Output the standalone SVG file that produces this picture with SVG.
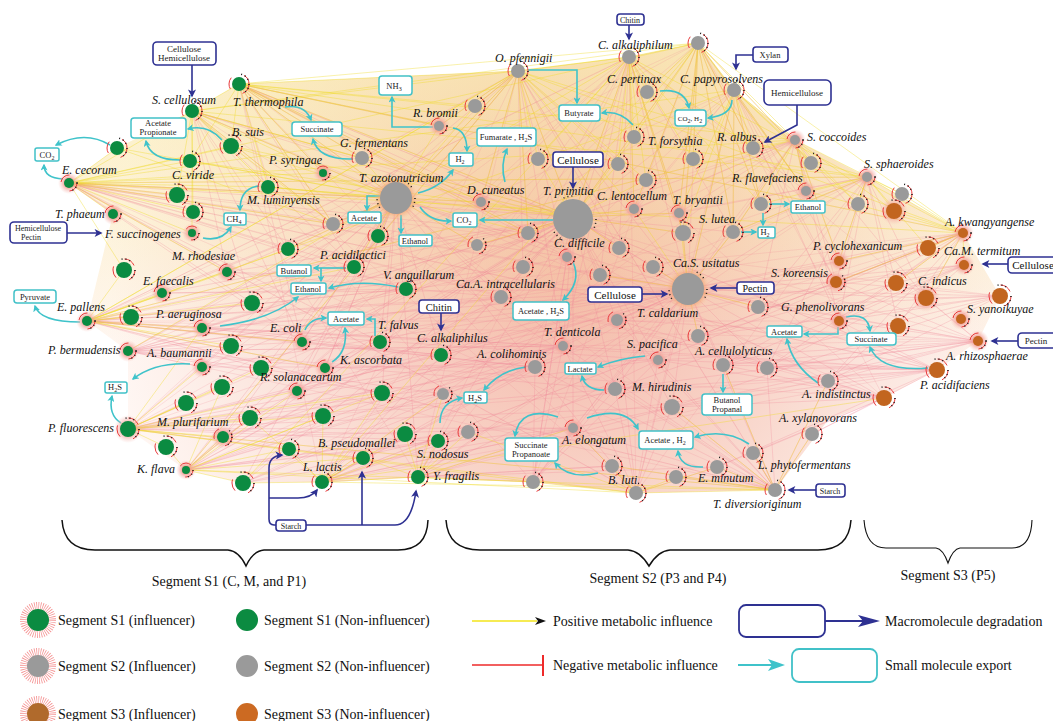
<svg xmlns="http://www.w3.org/2000/svg" width="1053" height="721" viewBox="0 0 1053 721">
<style>
.lb{font-family:"Liberation Serif","Times New Roman",serif;font-style:italic;font-size:12px;fill:#111}
.bt{font-family:"Liberation Serif",serif;font-size:8.5px;fill:#222;text-anchor:middle}
.mt{font-family:"Liberation Serif",serif;font-size:11px;fill:#111;text-anchor:middle}
.lg{font-family:"Liberation Serif",serif;font-size:14px;fill:#111}
.sg{font-family:"Liberation Serif",serif;font-size:14px;fill:#111;text-anchor:middle}
.cb{fill:#fff;stroke:#41c1c8;stroke-width:1.5}
.nb{fill:#fff;stroke:#2e3192;stroke-width:1.6}
.ca{fill:none;stroke:#3fc3ca;stroke-width:1.6;marker-end:url(#mc)}
.na{fill:none;stroke:#2e3192;stroke-width:1.6;marker-end:url(#mn)}
.nl{fill:none;stroke:#2e3192;stroke-width:1.6}
.cg{fill:#0b8b41}
.cs{fill:#9a9a9a}
.co{fill:#c2651f}
.rg{fill:none;stroke:#e8393a;stroke-width:1;stroke-dasharray:12 14}
.tk{fill:none;stroke:#1a1a1a;stroke-width:1.5;stroke-dasharray:1 3 1 3 1 40}
.hl{fill:url(#hp)}
.ho{fill:url(#hoo)}
.wp{fill:none;stroke:#ef8798;stroke-opacity:.5;stroke-width:.55}
.wl{fill:none;stroke:#ef8798;stroke-opacity:.4;stroke-width:.5}
.wy{fill:none;stroke:#efdb22;stroke-opacity:.7;stroke-width:.55}
.br{fill:none;stroke:#111;stroke-width:1.5}
.sb{font-size:6px}
</style>
<defs>
<radialGradient id="hp"><stop offset="0.35" stop-color="#f2948c" stop-opacity="0.95"/><stop offset="1" stop-color="#f7c4bc" stop-opacity="0"/></radialGradient>
<radialGradient id="hoo"><stop offset="0.6" stop-color="#f29a66" stop-opacity="0.95"/><stop offset="1" stop-color="#f7c09a" stop-opacity="0"/></radialGradient>
<radialGradient id="web" cx="570" cy="290" r="460" gradientUnits="userSpaceOnUse"><stop offset="0" stop-color="#f2ad9c"/><stop offset="0.35" stop-color="#f6c5b6"/><stop offset="0.7" stop-color="#fbe2d9"/><stop offset="1" stop-color="#fff5f1"/></radialGradient>
<linearGradient id="yel" x1="0" y1="60" x2="0" y2="360" gradientUnits="userSpaceOnUse"><stop offset="0" stop-color="#f7ec8e" stop-opacity=".45"/><stop offset=".5" stop-color="#f7e584" stop-opacity=".25"/><stop offset="1" stop-color="#f7e584" stop-opacity="0"/></linearGradient>
<marker id="mc" viewBox="0 0 10 10" refX="8" refY="5" markerWidth="7" markerHeight="7" markerUnits="userSpaceOnUse" orient="auto"><path d="M0 0L10 5L0 10L2.5 5Z" fill="#3fc3ca"/></marker>
<marker id="mn" viewBox="0 0 10 10" refX="8" refY="5" markerWidth="9" markerHeight="8" markerUnits="userSpaceOnUse" orient="auto"><path d="M0 0L10 5L0 10L2.5 5Z" fill="#2e3192"/></marker>
<g id="G7"><circle r="10" class="rg"/><circle r="10" class="tk"/><circle r="7" class="cg"/></g>
<g id="G8"><circle r="11" class="rg"/><circle r="11" class="tk"/><circle r="8" class="cg"/></g>
<g id="GI4"><circle r="10" class="hl"/><circle r="7" class="rg"/><circle r="7" class="tk"/><circle r="4" class="cg"/></g>
<g id="GI5"><circle r="11" class="hl"/><circle r="8" class="rg"/><circle r="8" class="tk"/><circle r="5" class="cg"/></g>
<g id="GI6"><circle r="12" class="hl"/><circle r="9" class="rg"/><circle r="9" class="tk"/><circle r="6" class="cg"/></g>
<g id="GI8"><circle r="14" class="hl"/><circle r="11" class="rg"/><circle r="11" class="tk"/><circle r="8" class="cg"/></g>
<g id="S6"><circle r="9" class="rg"/><circle r="9" class="tk"/><circle r="6" class="cs"/></g>
<g id="S7"><circle r="10" class="rg"/><circle r="10" class="tk"/><circle r="7" class="cs"/></g>
<g id="S8"><circle r="11" class="rg"/><circle r="11" class="tk"/><circle r="8" class="cs"/></g>
<g id="SI5"><circle r="11" class="hl"/><circle r="8" class="rg"/><circle r="8" class="tk"/><circle r="5" class="cs"/></g>
<g id="SI6"><circle r="12" class="hl"/><circle r="9" class="rg"/><circle r="9" class="tk"/><circle r="6" class="cs"/></g>
<g id="TAZ"><circle r="22" class="ho"/><circle r="19" class="tk"/><circle r="16" class="cs"/></g>
<g id="TPR"><circle r="23" class="tk"/><circle r="20" class="cs"/></g>
<g id="O8"><circle r="11" class="rg"/><circle r="11" class="tk"/><circle r="8" class="co"/></g>
<g id="OI5"><circle r="11" class="hl"/><circle r="8" class="rg"/><circle r="8" class="tk"/><circle r="5" class="co"/></g>
<g id="OI6"><circle r="12" class="hl"/><circle r="9" class="rg"/><circle r="9" class="tk"/><circle r="6" class="co"/></g>
<g id="OI8"><circle r="14" class="hl"/><circle r="11" class="rg"/><circle r="11" class="tk"/><circle r="8" class="co"/></g>
</defs>
<rect width="1053" height="721" fill="#fff"/>
<g id="connectors">
<g id="web">
<polygon points="69,183 117,148 192,111 239,84 518,71 629,57 698,43 734,90 795,140 867,177 963,233 1000,296 978,341 937,370 884,398 828,420 775,490 636,493 533,482 418,477 322,482 243,483 186,470 128,429 128,351 87,321 113,214" fill="url(#web)" opacity=".85"/>
<polygon points="69,183 117,148 192,111 239,84 518,71 629,57 698,43 734,90 795,140 867,177 963,233 1000,296 978,341 937,370 884,398 828,420 775,490 636,493 533,482 418,477 322,482 243,483 186,470 128,429 128,351 87,321 113,214" fill="url(#yel)"/>
<path class="wl" d="M69 183L937 370M69 183L978 341M69 183L775 490M69 183L884 398M69 183L636 493M69 183L1000 296M69 183L828 381M87 321L963 233M87 321L867 177M87 321L937 370M87 321L775 490M87 321L698 43M87 321L629 57M87 321L839 321M128 351L963 233M128 351L978 341M128 351L795 140M128 351L734 90M128 351L884 398M128 429L867 177M128 429L937 370M128 429L775 490M128 429L795 140M128 429L839 261M128 429L629 57M186 470L963 233M186 470L867 177M186 470L698 43M186 470L828 381M186 470L518 71M322 482L795 140M322 482L963 233M322 482L629 57M322 482L239 84M418 477L867 177M418 477L734 90M418 477L518 71M418 477L192 111M239 84L775 490M239 84L937 370M239 84L636 493M239 84L828 381M192 111L884 398M192 111L775 490M192 111L533 482M518 71L775 490M518 71L322 482M518 71L128 429M518 71L884 398M629 57L186 470M629 57L418 477M629 57L87 321M629 57L978 341M698 43L243 483M698 43L128 351M698 43L884 398M698 43L533 482M734 90L128 429M734 90L322 482M734 90L636 493M795 140L186 470M795 140L87 321M795 140L533 482M867 177L69 183M867 177L243 483M867 177L636 493M963 233L128 429M963 233L322 482M963 233L239 84M978 341L192 111M978 341L418 477M978 341L87 321M937 370L239 84M937 370L69 183M937 370L322 482M775 490L87 321M775 490L128 351M775 490L518 71M636 493L69 183M636 493L192 111M636 493L629 57"/>
<path class="wp" d="M69 183L396 198M69 183L573 217M69 183L688 289M69 183L288 249M69 183L354 267M69 183L528 233M69 183L227 272M69 183L302 342M69 183L380 342M69 183L333 224M69 183L406 289M69 183L252 303M69 183L567 257M69 183L481 202M87 321L396 198M87 321L573 217M87 321L688 289M87 321L406 289M87 321L302 342M87 321L325 368M87 321L563 346M87 321L535 367M87 321L523 267M87 321L261 368M87 321L441 355M87 321L501 297M87 321L658 360M128 351L396 198M128 351L573 217M128 351L567 257M128 351L563 346M128 351L688 289M128 351L302 342M128 351L406 289M128 351L382 393M128 351L443 394M128 351L615 389M128 351L501 297M128 351L202 367M128 429L573 217M128 429L688 289M128 429L396 198M128 429L573 428M128 429L535 367M128 429L563 346M128 429L443 394M128 429L438 441M128 429L363 458M128 429L405 434M128 429L658 360M128 429L615 389M128 429L672 407M186 470L573 217M186 470L688 289M186 470L573 428M186 470L535 367M186 470L396 198M186 470L468 432M186 470L438 441M186 470L406 289M186 470L501 297M186 470L563 346M186 470L223 437M243 483L573 217M243 483L573 428M243 483L468 432M243 483L535 367M243 483L396 198M243 483L688 289M322 482L573 217M322 482L688 289M322 482L573 428M322 482L612 466M322 482L468 432M322 482L535 367M322 482L563 346M322 482L615 389M322 482L672 407M418 477L573 217M418 477L573 428M418 477L688 289M418 477L612 466M418 477L533 482M418 477L717 467M418 477L658 360M418 477L396 198M418 477L672 407M239 84L396 198M239 84L573 217M239 84L481 202M239 84L528 233M239 84L333 224M239 84L288 249M239 84L323 173M239 84L362 158M239 84L439 126M239 84L567 257M239 84L354 267M239 84L302 342M239 84L688 289M192 111L396 198M192 111L573 217M192 111L333 224M192 111L354 267M192 111L288 249M192 111L302 342M192 111L252 303M192 111L481 202M192 111L227 272M518 71L396 198M518 71L573 217M518 71L567 257M518 71L481 202M518 71L528 233M518 71L523 267M518 71L688 289M518 71L619 248M518 71L439 126M518 71L475 106M518 71L362 158M518 71L333 224M518 71L563 346M518 71L354 267M629 57L573 217M629 57L688 289M629 57L567 257M629 57L619 248M629 57L634 209M629 57L679 213M629 57L683 233M629 57L733 232M629 57L806 191M629 57L600 275M629 57L481 202M629 57L528 233M629 57L563 346M698 43L573 217M698 43L688 289M698 43L634 209M698 43L679 213M698 43L733 232M698 43L761 204M698 43L753 148M698 43L811 163M698 43L683 233M698 43L806 191M698 43L836 282M734 90L573 217M734 90L688 289M734 90L634 209M734 90L733 232M734 90L806 191M734 90L761 204M734 90L839 261M734 90L836 282M734 90L839 321M795 140L573 217M795 140L688 289M795 140L733 232M795 140L806 191M795 140L839 261M795 140L836 282M795 140L926 298M795 140L839 321M795 140L758 307M795 140L634 209M795 140L679 213M867 177L688 289M867 177L839 261M867 177L836 282M867 177L926 298M867 177L839 321M867 177L896 283M867 177L898 326M867 177L679 213M867 177L733 232M867 177L758 307M867 177L767 368M963 233L688 289M963 233L839 261M963 233L836 282M963 233L926 298M963 233L839 321M963 233L896 283M963 233L898 326M963 233L758 307M963 233L828 381M963 233L767 368M963 233L723 365M963 233L698 336M963 233L658 360M964 265L688 289M964 265L836 282M964 265L839 321M964 265L828 381M964 265L767 368M964 265L723 365M964 265L698 336M964 265L615 389M964 265L617 320M1000 296L688 289M1000 296L926 298M1000 296L839 321M1000 296L836 282M1000 296L758 307M1000 296L828 381M1000 296L723 365M1000 296L672 407M1000 296L698 336M978 341L688 289M978 341L839 321M978 341L926 298M978 341L836 282M978 341L828 381M978 341L723 365M978 341L767 368M978 341L672 407M978 341L658 360M978 341L615 389M978 341L617 320M937 370L688 289M937 370L839 321M937 370L828 381M937 370L723 365M937 370L767 368M937 370L812 434M937 370L672 407M937 370L717 467M937 370L615 389M937 370L658 360M937 370L563 346M884 398L828 381M884 398L812 434M884 398L753 453M884 398L717 467M884 398L723 365M884 398L672 407M884 398L688 289M884 398L617 320M884 398L658 360M775 490L688 289M775 490L573 428M775 490L615 389M775 490L658 360M775 490L672 407M775 490L723 365M775 490L767 368M775 490L828 381M775 490L812 434M775 490L753 453M775 490L717 467M775 490L612 466M775 490L676 477M775 490L617 320M775 490L563 346M775 490L535 367M636 493L688 289M636 493L573 428M636 493L615 389M636 493L658 360M636 493L617 320M636 493L563 346M636 493L535 367M636 493L672 407M636 493L717 467M533 482L573 217M533 482L688 289M533 482L573 428M533 482L563 346M533 482L535 367M533 482L658 360M533 482L615 389M533 482L567 257M396 198L354 267M396 198L406 289M396 198L378 236M396 198L333 224M396 198L288 249M396 198L302 342M396 198L380 342M396 198L441 355M396 198L325 368M396 198L477 245M396 198L501 297M396 198L573 217M396 198L567 257M396 198L535 367M396 198L563 346M396 198L688 289M396 198L382 393M573 217L528 233M573 217L477 245M573 217L523 267M573 217L600 275M573 217L619 248M573 217L567 257M573 217L653 267M573 217L688 289M573 217L501 297M573 217L563 346M573 217L535 367M573 217L615 389M573 217L658 360M573 217L617 320M573 217L683 233M573 217L733 232M573 217L634 209M573 217L679 213M573 217L573 428M573 217L672 407M573 217L406 289M573 217L441 355M688 289L653 267M688 289L600 275M688 289L617 320M688 289L698 336M688 289L758 307M688 289L723 365M688 289L767 368M688 289L658 360M688 289L615 389M688 289L672 407M688 289L573 428M688 289L563 346M688 289L839 321M688 289L836 282M688 289L839 261M688 289L733 232M688 289L683 233M688 289L926 298M202 328L396 198M202 328L573 217M202 328L688 289M202 328L563 346M202 328L441 355M202 367L573 217M202 367L396 198M202 367L688 289M202 367L535 367M223 437L573 217M223 437L688 289M223 437L396 198M223 437L573 428M223 437L563 346M162 293L396 198M162 293L573 217M162 293L688 289M162 293L406 289M227 272L573 217M227 272L396 198M227 272L688 289M227 272L501 297M302 342L573 217M302 342L688 289M302 342L396 198M302 342L535 367M297 391L573 217M297 391L688 289M297 391L563 346M297 391L396 198M325 368L573 217M325 368L688 289M325 368L396 198M325 368L658 360"/>
<path class="wy" d="M239 84L475 106M239 84L439 126M239 84L362 158M239 84L396 198M239 84L323 173M239 84L268 187M239 84L231 146M239 84L333 224M239 84L481 202M239 84L573 217M239 84L528 233M239 84L190 161M239 84L518 71M192 111L231 146M192 111L268 187M192 111L323 173M192 111L362 158M192 111L396 198M192 111L177 195M192 111L193 212M192 111L192 233M192 111L573 217M192 111L333 224M192 111L239 84M518 71L475 106M518 71L439 126M518 71L538 159M518 71L618 164M518 71L634 137M518 71L573 217M518 71L396 198M518 71L481 202M518 71L528 233M518 71L634 209M518 71L646 180M518 71L629 57M629 57L647 92M629 57L634 137M629 57L618 164M629 57L646 180M629 57L693 159M629 57L573 217M629 57L634 209M629 57L679 213M629 57L683 233M629 57L538 159M629 57L753 148M629 57L761 204M629 57L698 43M698 43L647 92M698 43L734 90M698 43L634 137M698 43L693 159M698 43L753 148M698 43L761 204M698 43L795 140M698 43L811 163M698 43L806 191M698 43L733 232M698 43L679 213M698 43L683 233M698 43L634 209M698 43L573 217M734 90L753 148M734 90L811 163M734 90L761 204M734 90L806 191M734 90L733 232M734 90L795 140M734 90L858 204M734 90L679 213M734 90L683 233M734 90L688 289M795 140L811 163M795 140L806 191M795 140L858 204M795 140L902 194M795 140L894 211M795 140L839 261M795 140L733 232M795 140L761 204M795 140L753 148M867 177L858 204M867 177L902 194M867 177L894 211M867 177L928 248M867 177L839 261M867 177L963 233M867 177L806 191M867 177L733 232M867 177L761 204M963 233L894 211M963 233L928 248M963 233L902 194M963 233L964 265M963 233L896 283M963 233L926 298M963 233L839 261M963 233L806 191M963 233L836 282M69 183L117 148M69 183L190 161M69 183L177 195M69 183L193 212M69 183L113 214M69 183L192 233M69 183L231 146M69 183L268 187M69 183L323 173M69 183L333 224M69 183L396 198M69 183L124 270M69 183L227 272M69 183L192 111M87 321L124 270M87 321L162 293M87 321L131 317M87 321L202 328M87 321L231 346M87 321L227 272M87 321L252 303M87 321L288 249M87 321L354 267M87 321L302 342M87 321L325 368M128 429L186 403M128 429L222 387M128 429L223 437M128 429L166 447M128 429L250 418M128 429L297 391M128 429L323 416M128 429L261 368M128 429L202 367M128 429L202 328M128 429L382 393M186 470L166 447M186 470L223 437M186 470L250 418M186 470L289 449M186 470L323 416M186 470L363 458M186 470L222 387M186 470L297 391M186 470L382 393M186 470L243 483M322 482L289 449M322 482L363 458M322 482L250 418M322 482L323 416M322 482L405 434M322 482L438 441M322 482L443 394M322 482L382 393M322 482L243 483M418 477L438 441M418 477L405 434M418 477L468 432M418 477L443 394M418 477L363 458M418 477L533 482M418 477L573 428M418 477L322 482M775 490L753 453M775 490L717 467M775 490L812 434M775 490L676 477M775 490L612 466M775 490L672 407M775 490L723 365M775 490L828 381M775 490L636 493M636 493L612 466M636 493L676 477M636 493L717 467M636 493L573 428M636 493L468 432M636 493L533 482M396 198L333 224M396 198L378 236M396 198L354 267M396 198L288 249M396 198L323 173M396 198L362 158M396 198L439 126M396 198L475 106M396 198L481 202M396 198L477 245M396 198L268 187M396 198L528 233M573 217L538 159M573 217L618 164M573 217L646 180M573 217L634 137M573 217L634 209M573 217L679 213M573 217L683 233M573 217L528 233M573 217L477 245M573 217L481 202M573 217L619 248M688 289L653 267M688 289L733 232M688 289L683 233M688 289L600 275M688 289L698 336M688 289L758 307M688 289L679 213M688 289L634 209M231 146L396 198M231 146L573 217M231 146L333 224M190 161L396 198M190 161L573 217M268 187L573 217M268 187L396 198M117 148L396 198M117 148L333 224M69 183L867 177M69 183L795 140M69 183L734 90M69 183L963 233M87 321L734 90M87 321L795 140M87 321L518 71M239 84L867 177M239 84L963 233M239 84L795 140M239 84L698 43M192 111L698 43M192 111L629 57M192 111L867 177M518 71L963 233M518 71L867 177M518 71L186 470M518 71L87 321M629 57L128 351M629 57L243 483M629 57L963 233M698 43L69 183M698 43L322 482M698 43L963 233M128 429L636 493M128 429L775 490M128 429L533 482M186 470L636 493M186 470L775 490M322 482L775 490M322 482L884 398"/>
</g>
<g id="export-arrows">
<path class="ca" d="M110 145Q85 130 56 145"/>
<path class="ca" d="M63 179Q44 178 44 165"/>
<path class="ca" d="M222 140Q208 124 188 129"/>
<path class="ca" d="M180 160Q150 160 146 141"/>
<path class="ca" d="M285 107Q305 104 311 120"/>
<path class="ca" d="M353 159Q318 160 313 139"/>
<path class="ca" d="M259 186Q240 188 240 210"/>
<path class="ca" d="M203 238Q222 242 231 227"/>
<path class="ca" d="M80 322Q40 322 35 306"/>
<path class="ca" d="M190 364Q155 362 133 379"/>
<path class="ca" d="M121 423Q108 415 112 396"/>
<path class="ca" d="M220 326Q270 320 298 297"/>
<path class="ca" d="M346 268L314 268"/>
<path class="ca" d="M321 268L321 281"/>
<path class="ca" d="M398 287Q360 279 329 288"/>
<path class="ca" d="M305 330Q310 318 326 318"/>
<path class="ca" d="M332 362Q348 352 345 328"/>
<path class="ca" d="M375 336L375 319L367 319"/>
<path class="ca" d="M380 196L367 196L367 210"/>
<path class="ca" d="M401 215L401 233"/>
<path class="ca" d="M418 193Q440 188 453 170"/>
<path class="ca" d="M420 207Q430 222 451 221"/>
<path class="ca" d="M553 220L480 220"/>
<path class="ca" d="M453 128Q467 130 467 151"/>
<path class="ca" d="M433 127L392 127L392 97"/>
<path class="ca" d="M505 182Q500 165 507 149"/>
<path class="ca" d="M528 70L577 70L577 103"/>
<path class="ca" d="M633 125Q620 110 602 113"/>
<path class="ca" d="M660 91Q685 88 689 108"/>
<path class="ca" d="M732 100Q732 115 708 118"/>
<path class="ca" d="M769 204L789 204"/>
<path class="ca" d="M763 213L763 225"/>
<path class="ca" d="M741 232L756 232"/>
<path class="ca" d="M573 262Q582 282 563 300"/>
<path class="ca" d="M526 367Q500 370 484 390"/>
<path class="ca" d="M440 423Q440 402 462 398"/>
<path class="ca" d="M645 356Q620 358 598 367"/>
<path class="ca" d="M604 390Q585 390 582 376"/>
<path class="ca" d="M558 417Q520 405 515 436"/>
<path class="ca" d="M587 418Q625 405 638 429"/>
<path class="ca" d="M598 473Q570 480 555 463"/>
<path class="ca" d="M749 444Q725 428 695 437"/>
<path class="ca" d="M703 467Q680 468 678 451"/>
<path class="ca" d="M723 374L723 392"/>
<path class="ca" d="M838 327L838 334L804 334"/>
<path class="ca" d="M846 317Q868 312 870 331"/>
<path class="ca" d="M928 368Q880 372 870 347"/>
<path class="ca" d="M818 383Q792 365 787 339"/>
</g>
<g id="degradation-arrows">
<path class="na" d="M192 65L192 96"/>
<path class="na" d="M67 233L101 233"/>
<path class="na" d="M629 25L629 39"/>
<path class="na" d="M753 55L736 55L736 69"/>
<path class="na" d="M797 105L797 125L765 142"/>
<path class="na" d="M573 167L573 188"/>
<path class="na" d="M441 313L441 330"/>
<path class="na" d="M642 294L667 294"/>
<path class="na" d="M737 288L711 288"/>
<path class="na" d="M1008 264L983 264"/>
<path class="na" d="M1018 341L992 341"/>
<path class="na" d="M816 490L789 490"/>
<path class="na" d="M276 525L274 525Q269 525 269 519L269 468Q269 456 282 455"/>
<path class="na" d="M269 498L298 498Q311 498 317 490"/>
<path class="nl" d="M306 525L395 525"/>
<path class="na" d="M395 525Q411 525 416 491"/>
<path class="na" d="M362 525L362 472"/>
</g>
</g>
<g id="nodes">
<g id="n-tth"><use href="#G7" x="239" y="84"/><text class="lb" x="233" y="106">T. thermophila</text></g>
<g id="n-sce"><use href="#G7" x="192" y="111"/><text class="lb" x="152" y="104">S. cellulosum</text></g>
<g id="n-bsu"><use href="#G8" x="231" y="146"/><text class="lb" x="232" y="136">B. suis</text></g>
<g id="n-g1"><use href="#G7" x="117" y="148"/></g>
<g id="n-cvi"><use href="#G7" x="190" y="161"/><text class="lb" x="172" y="179">C. viride</text></g>
<g id="n-eca"><use href="#GI5" x="69" y="183"/><text class="lb" x="62" y="174">E. cecorum</text></g>
<g id="n-psy"><use href="#GI4" x="323" y="173"/><text class="lb" x="269" y="164">P. syringae</text></g>
<g id="n-mlu"><use href="#G7" x="268" y="187"/><text class="lb" x="247" y="204">M. luminyensis</text></g>
<g id="n-g2"><use href="#G8" x="177" y="195"/></g>
<g id="n-g3"><use href="#G7" x="193" y="212"/></g>
<g id="n-tph"><use href="#GI5" x="113" y="214"/><text class="lb" x="55" y="218">T. phaeum</text></g>
<g id="n-fsu"><use href="#GI4" x="192" y="233"/><text class="lb" x="105" y="238">F. succinogenes</text></g>
<g id="n-g4"><use href="#G7" x="288" y="249"/></g>
<g id="n-g5"><use href="#G7" x="378" y="236"/></g>
<g id="n-pac"><use href="#G7" x="354" y="267"/><text class="lb" x="320" y="259">P. acidilactici</text></g>
<g id="n-mrh"><use href="#GI5" x="227" y="272"/><text class="lb" x="172" y="260">M. rhodesiae</text></g>
<g id="n-g6"><use href="#G8" x="124" y="270"/></g>
<g id="n-efa"><use href="#GI5" x="162" y="293"/><text class="lb" x="143" y="285">E. faecalis</text></g>
<g id="n-g7"><use href="#G8" x="252" y="303"/></g>
<g id="n-van"><use href="#G7" x="406" y="289"/><text class="lb" x="383" y="279">V. anguillarum</text></g>
<g id="n-epa"><use href="#GI5" x="87" y="321"/><text class="lb" x="57" y="311">E. pallens</text></g>
<g id="n-g8"><use href="#G8" x="131" y="317"/></g>
<g id="n-pae"><use href="#GI5" x="202" y="328"/><text class="lb" x="156" y="318">P. aeruginosa</text></g>
<g id="n-eco"><use href="#GI5" x="302" y="342"/><text class="lb" x="270" y="332">E. coli</text></g>
<g id="n-g9"><use href="#G8" x="231" y="346"/></g>
<g id="n-pbe"><use href="#GI5" x="128" y="351"/><text class="lb" x="48" y="354">P. bermudensis</text></g>
<g id="n-aba"><use href="#GI5" x="202" y="367"/><text class="lb" x="147" y="357">A. baumannii</text></g>
<g id="n-g10"><use href="#G8" x="261" y="368"/></g>
<g id="n-kas"><use href="#GI5" x="325" y="368"/><text class="lb" x="340" y="364">K. ascorbata</text></g>
<g id="n-tfa"><use href="#G7" x="380" y="342"/><text class="lb" x="378" y="329">T. falvus</text></g>
<g id="n-cak"><use href="#G7" x="441" y="355"/><text class="lb" x="417" y="342">C. alkaliphilus</text></g>
<g id="n-rso"><use href="#GI5" x="297" y="391"/><text class="lb" x="260" y="381">R. solanacearum</text></g>
<g id="n-g11"><use href="#G8" x="222" y="387"/></g>
<g id="n-g12"><use href="#G8" x="382" y="393"/></g>
<g id="n-g13"><use href="#G8" x="186" y="403"/></g>
<g id="n-g14"><use href="#G8" x="250" y="418"/></g>
<g id="n-g15"><use href="#G8" x="323" y="416"/></g>
<g id="n-pfl"><use href="#GI8" x="128" y="429"/><text class="lb" x="48" y="432">P. fluorescens</text></g>
<g id="n-mpl"><use href="#GI6" x="223" y="437"/><text class="lb" x="157" y="426">M. plurifarium</text></g>
<g id="n-g16"><use href="#G8" x="405" y="434"/></g>
<g id="n-sno"><use href="#G7" x="438" y="441"/><text class="lb" x="417" y="458">S. nodosus</text></g>
<g id="n-g17"><use href="#G8" x="166" y="447"/></g>
<g id="n-g18"><use href="#G7" x="289" y="449"/></g>
<g id="n-bps"><use href="#G7" x="363" y="458"/><text class="lb" x="318" y="447">B. pseudomallei</text></g>
<g id="n-kfl"><use href="#GI4" x="186" y="470"/><text class="lb" x="137" y="473">K. flava</text></g>
<g id="n-g19"><use href="#G8" x="243" y="483"/></g>
<g id="n-lla"><use href="#G7" x="322" y="482"/><text class="lb" x="303" y="471">L. lactis</text></g>
<g id="n-yfr"><use href="#G7" x="418" y="477"/><text class="lb" x="433" y="480">Y. fragilis</text></g>
<g id="n-gfe"><use href="#S7" x="362" y="158"/><text class="lb" x="340" y="147">G. fermentans</text></g>
<g id="n-s1"><use href="#S7" x="333" y="224"/></g>
<g id="n-rbr"><use href="#SI5" x="439" y="126"/><text class="lb" x="413" y="117">R. bromii</text></g>
<g id="n-s2"><use href="#S7" x="475" y="106"/></g>
<g id="n-opf"><use href="#S7" x="518" y="71"/><text class="lb" x="495" y="62">O. pfennigii</text></g>
<g id="n-calk"><use href="#S7" x="629" y="57"/><text class="lb" x="598" y="49">C. alkaliphilum</text></g>
<g id="n-s3"><use href="#S7" x="698" y="43"/></g>
<g id="n-cpe"><use href="#S7" x="647" y="92"/><text class="lb" x="607" y="83">C. pertinax</text></g>
<g id="n-cpa"><use href="#S7" x="734" y="90"/><text class="lb" x="680" y="83">C. papyrosolvens</text></g>
<g id="n-tfo"><use href="#S7" x="634" y="137"/><text class="lb" x="648" y="145">T. forsythia</text></g>
<g id="n-s4"><use href="#S7" x="538" y="159"/></g>
<g id="n-s5"><use href="#S7" x="618" y="164"/></g>
<g id="n-s6"><use href="#S7" x="646" y="180"/></g>
<g id="n-s7"><use href="#S7" x="693" y="159"/></g>
<g id="n-ral"><use href="#S7" x="753" y="148"/><text class="lb" x="717" y="141">R. albus</text></g>
<g id="n-sco"><use href="#SI5" x="795" y="140"/><text class="lb" x="807" y="141">S. coccoides</text></g>
<g id="n-s8"><use href="#S7" x="811" y="163"/></g>
<g id="n-rfl"><use href="#SI5" x="806" y="191"/><text class="lb" x="732" y="182">R. flavefaciens</text></g>
<g id="n-s27"><use href="#S7" x="858" y="204"/></g>
<g id="n-s28"><use href="#S7" x="902" y="194"/></g>
<g id="n-sph"><use href="#SI5" x="867" y="177"/><text class="lb" x="864" y="168">S. sphaeroides</text></g>
<g id="n-taz"><use href="#TAZ" x="396" y="198"/><text class="lb" x="359" y="182">T. azotonutricium</text></g>
<g id="n-dcu"><use href="#SI5" x="481" y="202"/><text class="lb" x="467" y="194">D. cuneatus</text></g>
<g id="n-tpr"><use href="#TPR" x="573" y="219"/><text class="lb" x="543" y="195">T. primitia</text></g>
<g id="n-cle"><use href="#SI5" x="634" y="209"/><text class="lb" x="597" y="200">C. lentocellum</text></g>
<g id="n-tbr"><use href="#SI5" x="679" y="213"/><text class="lb" x="673" y="204">T. bryantii</text></g>
<g id="n-s9"><use href="#S7" x="761" y="204"/></g>
<g id="n-slu"><use href="#S7" x="733" y="232"/><text class="lb" x="699" y="223">S. lutea</text></g>
<g id="n-s10"><use href="#S8" x="683" y="233"/></g>
<g id="n-s11"><use href="#S7" x="528" y="233"/></g>
<g id="n-s12"><use href="#S6" x="477" y="245"/></g>
<g id="n-s13"><use href="#S7" x="619" y="248"/></g>
<g id="n-cdi"><use href="#SI5" x="567" y="257"/><text class="lb" x="554" y="247">C. difficile</text></g>
<g id="n-s14"><use href="#S7" x="523" y="267"/></g>
<g id="n-s15"><use href="#S7" x="600" y="275"/></g>
<g id="n-s16"><use href="#S7" x="653" y="267"/><text class="lb" x="673" y="267">Ca.S. usitatus</text></g>
<g id="n-bigc"><use href="#TAZ" x="688" y="289"/></g>
<g id="n-tca"><use href="#SI6" x="617" y="320"/><text class="lb" x="637" y="317">T. caldarium</text></g>
<g id="n-s17"><use href="#S7" x="501" y="297"/><text class="lb" x="456" y="288">Ca.A. intracellularis</text></g>
<g id="n-s18"><use href="#S7" x="698" y="336"/></g>
<g id="n-s19"><use href="#S7" x="758" y="307"/></g>
<g id="n-tde"><use href="#SI5" x="563" y="346"/><text class="lb" x="544" y="336">T. denticola</text></g>
<g id="n-aco"><use href="#S7" x="535" y="367"/><text class="lb" x="477" y="358">A. colihominis</text></g>
<g id="n-s20"><use href="#S6" x="443" y="394"/></g>
<g id="n-s21"><use href="#S7" x="468" y="432"/></g>
<g id="n-spa"><use href="#SI5" x="658" y="360"/><text class="lb" x="627" y="348">S. pacifica</text></g>
<g id="n-mhi"><use href="#S7" x="615" y="389"/><text class="lb" x="632" y="391">M. hirudinis</text></g>
<g id="n-s22"><use href="#S8" x="672" y="407"/></g>
<g id="n-ael"><use href="#SI5" x="573" y="428"/><text class="lb" x="562" y="444">A. elongatum</text></g>
<g id="n-blu"><use href="#S7" x="612" y="466"/><text class="lb" x="608" y="484">B. luti</text></g>
<g id="n-s23"><use href="#S7" x="533" y="482"/></g>
<g id="n-s24"><use href="#S7" x="636" y="493"/></g>
<g id="n-s25"><use href="#S7" x="676" y="477"/></g>
<g id="n-emi"><use href="#S7" x="717" y="467"/><text class="lb" x="698" y="482">E. minutum</text></g>
<g id="n-ace"><use href="#S7" x="723" y="365"/><text class="lb" x="695" y="355">A. cellulolyticus</text></g>
<g id="n-s26"><use href="#S7" x="767" y="368"/></g>
<g id="n-ain"><use href="#S7" x="828" y="381"/><text class="lb" x="802" y="398">A. indistinctus</text></g>
<g id="n-axy"><use href="#S7" x="812" y="434"/><text class="lb" x="779" y="422">A. xylanovorans</text></g>
<g id="n-lph"><use href="#S7" x="753" y="453"/><text class="lb" x="758" y="469">L. phytofermentans</text></g>
<g id="n-tdi"><use href="#S7" x="775" y="490"/><text class="lb" x="713" y="508">T. diversioriginum</text></g>
<g id="n-o1"><use href="#OI8" x="894" y="211"/></g>
<g id="n-akw"><use href="#OI5" x="963" y="233"/><text class="lb" x="945" y="226">A. kwangyangense</text></g>
<g id="n-pcy"><use href="#OI5" x="839" y="261"/><text class="lb" x="813" y="250">P. cyclohexanicum</text></g>
<g id="n-o2"><use href="#O8" x="928" y="248"/></g>
<g id="n-cmt"><use href="#OI5" x="964" y="265"/><text class="lb" x="944" y="255">Ca.M. termitum</text></g>
<g id="n-sko"><use href="#OI6" x="836" y="282"/><text class="lb" x="771" y="277">S. koreensis</text></g>
<g id="n-o3"><use href="#O8" x="896" y="283"/></g>
<g id="n-cin"><use href="#OI8" x="926" y="298"/><text class="lb" x="918" y="285">C. indicus</text></g>
<g id="n-o4"><use href="#O8" x="1000" y="296"/><text class="lb" x="967" y="313">S. yanoikuyae</text></g>
<g id="n-sya"><use href="#OI5" x="961" y="319"/></g>
<g id="n-o5"><use href="#O8" x="898" y="326"/></g>
<g id="n-gph"><use href="#OI5" x="839" y="321"/><text class="lb" x="781" y="311">G. phenolivorans</text></g>
<g id="n-arh"><use href="#OI5" x="978" y="341"/><text class="lb" x="946" y="360">A. rhizosphaerae</text></g>
<g id="n-paf"><use href="#O8" x="937" y="370"/><text class="lb" x="920" y="389">P. acidifaciens</text></g>
<g id="n-o6"><use href="#O8" x="884" y="398"/></g>
<g id="x-co2a"><rect class="cb" x="35" y="148" width="24" height="13" rx="2"/><text class="bt" x="47" y="158">CO<tspan class="sb" dy="2">2</tspan></text></g>
<g id="x-acpr"><rect class="cb" x="131" y="118" width="55" height="20" rx="3"/><text class="bt" x="158" y="126">Acetate</text><text class="bt" x="158" y="135">Propionate</text></g>
<g id="x-succa"><rect class="cb" x="292" y="122" width="50" height="14" rx="3"/><text class="bt" x="317" y="132">Succinate</text></g>
<g id="x-ch4"><rect class="cb" x="224" y="213" width="22" height="12" rx="2"/><text class="bt" x="234" y="222">CH<tspan class="sb" dy="2">4</tspan></text></g>
<g id="x-pyr"><rect class="cb" x="14" y="290" width="42" height="13" rx="3"/><text class="bt" x="35" y="300">Pyruvate</text></g>
<g id="x-buta"><rect class="cb" x="277" y="265" width="34" height="11" rx="2"/><text class="bt" x="294" y="274">Butanol</text></g>
<g id="x-etha"><rect class="cb" x="291" y="283" width="35" height="11" rx="2"/><text class="bt" x="308" y="292">Ethanol</text></g>
<g id="x-aca"><rect class="cb" x="328" y="312" width="36" height="13" rx="2"/><text class="bt" x="346" y="322">Acetate</text></g>
<g id="x-h2sa"><rect class="cb" x="105" y="382" width="22" height="11" rx="2"/><text class="bt" x="115" y="390">H<tspan class="sb" dy="2">2</tspan><tspan dy="-2">S</tspan></text></g>
<g id="x-nh3"><rect class="cb" x="379" y="76" width="33" height="19" rx="3"/><text class="bt" x="394" y="89">NH<tspan class="sb" dy="2">3</tspan></text></g>
<g id="x-h2a"><rect class="cb" x="449" y="153" width="24" height="13" rx="2"/><text class="bt" x="460" y="162">H<tspan class="sb" dy="2">2</tspan></text></g>
<g id="x-fum"><rect class="cb" x="477" y="128" width="59" height="18" rx="3"/><text class="bt" x="506" y="140">Fumarate , H<tspan class="sb" dy="2">2</tspan><tspan dy="-2">S</tspan></text></g>
<g id="x-acb"><rect class="cb" x="348" y="212" width="33" height="11" rx="2"/><text class="bt" x="364" y="221">Acetate</text></g>
<g id="x-ethb"><rect class="cb" x="399" y="235" width="33" height="11" rx="2"/><text class="bt" x="415" y="244">Ethanol</text></g>
<g id="x-co2b"><rect class="cb" x="453" y="213" width="24" height="14" rx="2"/><text class="bt" x="464" y="223">CO<tspan class="sb" dy="2">2</tspan></text></g>
<g id="x-buty"><rect class="cb" x="559" y="105" width="41" height="16" rx="3"/><text class="bt" x="579" y="116">Butyrate</text></g>
<g id="x-co2h2"><rect class="cb" x="675" y="110" width="31" height="16" rx="3"/><text class="bt" x="690" y="121" style="font-size:7px">CO<tspan class="sb" dy="2">2</tspan><tspan dy="-2">, H</tspan><tspan class="sb" dy="2">2</tspan></text></g>
<g id="x-ethc"><rect class="cb" x="791" y="201" width="34" height="12" rx="2"/><text class="bt" x="808" y="210">Ethanol</text></g>
<g id="x-h2b"><rect class="cb" x="758" y="227" width="17" height="11" rx="2"/><text class="bt" x="765" y="235">H<tspan class="sb" dy="2">2</tspan></text></g>
<g id="x-ach2s"><rect class="cb" x="513" y="302" width="56" height="18" rx="3"/><text class="bt" x="541" y="314">Acetate , H<tspan class="sb" dy="2">2</tspan><tspan dy="-2">S</tspan></text></g>
<g id="x-lac"><rect class="cb" x="565" y="363" width="31" height="11" rx="2"/><text class="bt" x="580" y="372">Lactate</text></g>
<g id="x-h2sb"><rect class="cb" x="464" y="392" width="23" height="11" rx="2"/><text class="bt" x="475" y="401">H<tspan class="sb" dy="2">2</tspan><tspan dy="-2">S</tspan></text></g>
<g id="x-acc"><rect class="cb" x="767" y="326" width="35" height="11" rx="2"/><text class="bt" x="784" y="335">Acetate</text></g>
<g id="x-succb"><rect class="cb" x="847" y="333" width="49" height="12" rx="3"/><text class="bt" x="871" y="342">Succinate</text></g>
<g id="x-bupr"><rect class="cb" x="702" y="394" width="50" height="21" rx="3"/><text class="bt" x="727" y="403">Butanol</text><text class="bt" x="727" y="412">Propanal</text></g>
<g id="x-supr"><rect class="cb" x="505" y="438" width="53" height="23" rx="3"/><text class="bt" x="531" y="448">Succinate</text><text class="bt" x="531" y="457">Propanoate</text></g>
<g id="x-ach2"><rect class="cb" x="639" y="431" width="54" height="18" rx="3"/><text class="bt" x="665" y="443">Acetate , H<tspan class="sb" dy="2">2</tspan></text></g>
<g id="m-celhem"><rect class="nb" x="153" y="42" width="63" height="23" rx="4"/><text class="bt" x="184" y="52" style="font-size:9px">Cellulose</text><text class="bt" x="184" y="61" style="font-size:9px">Hemicellulose</text></g>
<g id="m-hempec"><rect class="nb" x="10" y="222" width="57" height="21" rx="4"/><text class="bt" x="38" y="231" style="font-size:8px">Hemicellulose</text><text class="bt" x="31" y="240" style="font-size:8px">Pectin</text></g>
<g id="m-chitina"><rect class="nb" x="617" y="14" width="27" height="11" rx="3"/><text class="bt" x="630" y="23" style="font-size:8px">Chitin</text></g>
<g id="m-xylan"><rect class="nb" x="753" y="47" width="35" height="15" rx="3"/><text class="bt" x="770" y="58">Xylan</text></g>
<g id="m-hem"><rect class="nb" x="764" y="80" width="67" height="25" rx="5"/><text class="bt" x="797" y="96" style="font-size:9px">Hemicellulose</text></g>
<g id="m-cela"><rect class="nb" x="553" y="152" width="50" height="15" rx="3"/><text class="mt" x="578" y="164">Cellulose</text></g>
<g id="m-chitinb"><rect class="nb" x="419" y="300" width="40" height="13" rx="3"/><text class="mt" x="439" y="311" style="font-size:10.5px">Chitin</text></g>
<g id="m-celb"><rect class="nb" x="588" y="287" width="54" height="15" rx="3"/><text class="mt" x="615" y="299">Cellulose</text></g>
<g id="m-peca"><rect class="nb" x="737" y="282" width="37" height="12" rx="3"/><text class="mt" x="755" y="292" style="font-size:10px">Pectin</text></g>
<g id="m-celc"><rect class="nb" x="1008" y="257" width="50" height="16" rx="4"/><text class="mt" x="1033" y="269">Cellulose</text></g>
<g id="m-pecb"><rect class="nb" x="1018" y="333" width="40" height="15" rx="4"/><text class="bt" x="1036" y="344" style="font-size:9px">Pectin</text></g>
<g id="m-starcha"><rect class="nb" x="276" y="520" width="30" height="11" rx="3"/><text class="bt" x="291" y="529" style="font-size:8px">Starch</text></g>
<g id="m-starchb"><rect class="nb" x="816" y="484" width="29" height="13" rx="3"/><text class="bt" x="830" y="494" style="font-size:8px">Starch</text></g>
</g>
<g id="segments">
<path class="br" d="M62 520Q64 550 95 550L228 550Q239 551 246 566Q253 551 264 550L398 550Q427 550 428 520"/>
<path class="br" d="M446 520Q448 550 480 550L628 550Q640 551 649 566Q658 551 670 550L818 550Q849 550 851 520"/>
<path class="br" style="stroke-width:1.1" d="M864 520Q866 548 886 548L936 548Q943 549 948 563Q953 549 960 548L1012 548Q1031 548 1032 520"/>
<text class="sg" x="229" y="586">Segment S1 (C, M, and P1)</text>
<text class="sg" x="658" y="583">Segment S2 (P3 and P4)</text>
<text class="sg" x="948" y="580">Segment S3 (P5)</text>
</g>
<g id="legend">
<circle cx="38" cy="620" r="14" fill="none" stroke="#f06060" stroke-width="8" stroke-dasharray="0.7 1.3" opacity=".7"/>
<circle cx="38" cy="620" r="11" class="cg"/>
<text class="lg" x="58" y="625">Segment S1 (influencer)</text>
<circle cx="247" cy="620" r="11" class="cg"/>
<text class="lg" x="264" y="625">Segment S1 (Non-influencer)</text>
<circle cx="38" cy="666" r="14" fill="none" stroke="#f06060" stroke-width="8" stroke-dasharray="0.7 1.3" opacity=".7"/>
<circle cx="38" cy="666" r="11" class="cs"/>
<text class="lg" x="58" y="671">Segment S2 (Influencer)</text>
<circle cx="247" cy="666" r="11" class="cs"/>
<text class="lg" x="264" y="671">Segment S2 (Non-influencer)</text>
<circle cx="38" cy="714" r="14" fill="none" stroke="#f06060" stroke-width="8" stroke-dasharray="0.7 1.3" opacity=".7"/>
<circle cx="38" cy="714" r="11" fill="#b06a2c"/>
<text class="lg" x="58" y="719">Segment S3 (Influencer)</text>
<circle cx="247" cy="714" r="11" fill="#cc6a22"/>
<text class="lg" x="264" y="719">Segment S3 (Non-influencer)</text>
<path d="M472 621L537 621" stroke="#f3e41a" stroke-width="1.6"/>
<path d="M535 617L546 621L535 625L538 621Z" fill="#111"/>
<text class="lg" x="553" y="626">Positive metabolic influence</text>
<path d="M472 665L543 665" stroke="#ee2a2a" stroke-width="1.6"/>
<path d="M543 655L543 676" stroke="#ee2a2a" stroke-width="2"/>
<text class="lg" x="553" y="670">Negative metabolic influence</text>
<rect x="739" y="605" width="86" height="32" rx="7" fill="#fff" stroke="#2e3192" stroke-width="1.8"/>
<path d="M825 621L866 621" stroke="#2e3192" stroke-width="2.2"/>
<path d="M858 615L880 621L858 627L863 621Z" fill="#2e3192"/>
<text class="lg" x="885" y="626">Macromolecule degradation</text>
<path d="M738 665L774 665" stroke="#3fc3ca" stroke-width="2"/>
<path d="M768 659L785 665L768 671L772 665Z" fill="#3fc3ca"/>
<rect x="792" y="649" width="85" height="33" rx="7" fill="#fff" stroke="#41c1c8" stroke-width="1.8"/>
<text class="lg" x="885" y="670">Small molecule export</text>
</g>
</svg>
